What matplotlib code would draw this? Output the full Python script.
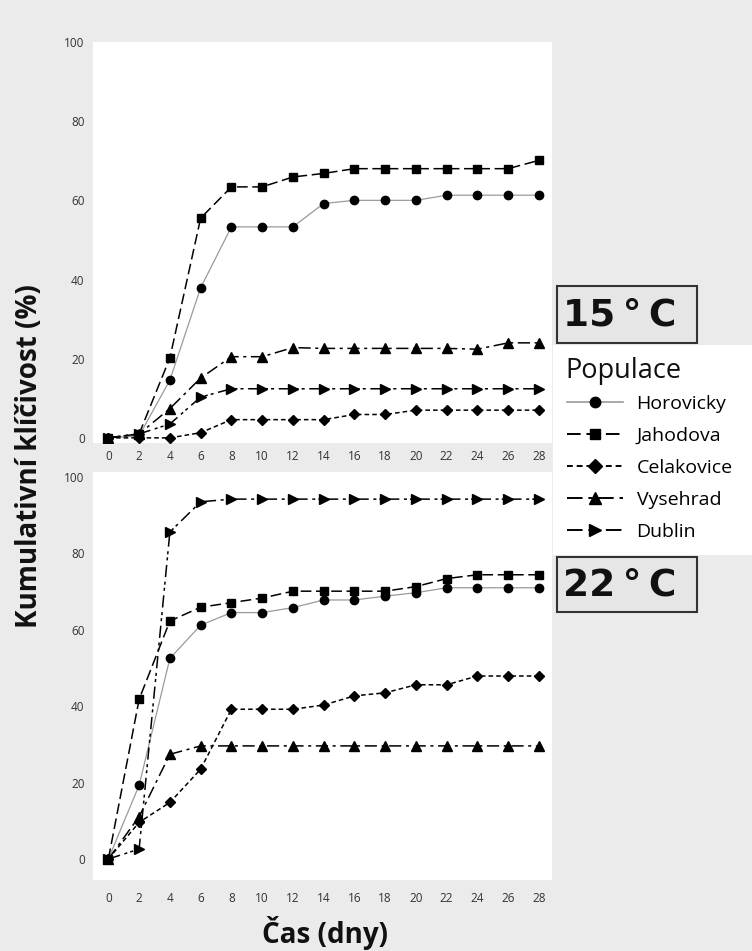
import matplotlib
matplotlib.use("Agg")
import matplotlib.pyplot as plt
from matplotlib.lines import Line2D
from matplotlib.patches import Rectangle

days = [0, 2, 4, 6, 8, 10, 12, 14, 16, 18, 20, 22, 24, 26, 28]
populations = ["Horovicky", "Jahodova", "Celakovice", "Vysehrad", "Dublin"]

# 15 °C
t15_horovicky = [0, 0.5, 14.6, 37.9, 53.3, 53.3, 53.3, 59.2, 60, 60, 60, 61.3, 61.3, 61.3, 61.3]
t15_jahodova = [0, 1, 20.2, 55.5, 63.4, 63.4, 65.9, 66.8, 68, 68, 68, 68, 68, 68, 70.1]
t15_celakovice = [0, 0, 0, 1.3, 4.6, 4.6, 4.6, 4.6, 5.9, 5.9, 7, 7, 7, 7, 7]
t15_vysehrad = [0, 1, 7.4, 15.1, 20.5, 20.5, 22.8, 22.6, 22.6, 22.6, 22.6, 22.6, 22.4, 24, 24]
t15_dublin = [0, 1, 3.5, 10.3, 12.4, 12.4, 12.4, 12.4, 12.4, 12.4, 12.4, 12.4, 12.4, 12.4, 12.4]

# 22 °C
t22_horovicky = [0, 19.3, 52.5, 61.2, 64.5, 64.5, 65.8, 67.8, 67.8, 68.8, 69.7, 71, 71, 71, 71]
t22_jahodova = [0, 41.8, 62.3, 65.9, 67.1, 68.3, 70.1, 70.1, 70.1, 70.1, 71.3, 73.4, 74.4, 74.4, 74.4]
t22_celakovice = [0, 9.6, 14.8, 23.5, 39.2, 39.2, 39.2, 40.3, 42.7, 43.5, 45.6, 45.6, 47.9, 47.9, 47.9]
t22_vysehrad = [0, 11.1, 27.4, 29.6, 29.6, 29.6, 29.6, 29.6, 29.6, 29.6, 29.6, 29.6, 29.6, 29.6, 29.6]
t22_dublin = [0, 2.6, 85.6, 93.5, 94.2, 94.2, 94.2, 94.2, 94.2, 94.2, 94.2, 94.2, 94.2, 94.2, 94.2]

yticks = [0, 20, 40, 60, 80, 100]
ylabel = "Kumulativní klíčivost (%)"
xlabel = "Čas (dny)"
legend_title = "Populace"
panel_labels = ["15\u2009°\u2009C", "22\u2009°\u2009C"]

styles = {
    "Horovicky": dict(marker="o", color="#9a9a9a", lw=0.9, ls="-", mfc="black", mec="black"),
    "Jahodova": dict(marker="s", color="black", lw=1.1, ls=(0, (7, 3)), mfc="black", mec="black"),
    "Celakovice": dict(marker="D", color="black", lw=1.1, ls=(0, (3, 2)), mfc="black", mec="black"),
    "Vysehrad": dict(marker="^", color="black", lw=1.1, ls=(0, (8, 3, 2, 3)), mfc="black", mec="black"),
    "Dublin": dict(marker=">", color="black", lw=1.1, ls=(0, (8, 3, 2, 2, 2, 3)), mfc="black", mec="black"),
}
msize = {"Horovicky": 6, "Jahodova": 6, "Celakovice": 5.5, "Vysehrad": 6.5, "Dublin": 6.5}

FONT = ["Open Sans", "DejaVu Sans"]
plt.rcParams["font.family"] = FONT

W, H = 752, 951
fig = plt.figure(figsize=(W / 100, H / 100), dpi=100)
fig.patch.set_facecolor("#ebebeb")

def fx(px):
    return px / W

def fy(py):
    return 1 - py / H

ax1 = fig.add_axes([fx(93), fy(443), fx(552) - fx(93), fy(42) - fy(443)])
ax2 = fig.add_axes([fx(93), fy(880), fx(552) - fx(93), fy(472) - fy(880)])

data15 = [t15_horovicky, t15_jahodova, t15_celakovice, t15_vysehrad, t15_dublin]
data22 = [t22_horovicky, t22_jahodova, t22_celakovice, t22_vysehrad, t22_dublin]

for ax, dset, ylim, xpad in [(ax1, data15, (-1.3, 100), 5), (ax2, data22, (-5.5, 101.3), 9)]:
    for name, vals in zip(populations, dset):
        st = styles[name]
        ax.plot(days, vals, marker=st["marker"], color=st["color"], lw=st["lw"],
                ls=st["ls"], mfc=st["mfc"], mec=st["mec"], ms=msize[name])
    ax.set_xlim(-1, 28.85)
    ax.set_ylim(*ylim)
    ax.set_xticks(days)
    ax.set_yticks(yticks)
    ax.tick_params(length=0, labelsize=8.5, colors="#333333")
    ax.tick_params(axis="x", pad=xpad)
    ax.tick_params(axis="y", pad=6)
    for sp in ax.spines.values():
        sp.set_visible(False)
    ax.set_facecolor("white")

fig.text(fx(30), fy(456), ylabel, rotation=90, ha="center", va="center",
         fontsize=20, fontweight="bold", color="#111111")
fig.text(fx(325), fy(933), xlabel, ha="center", va="center",
         fontsize=20, fontweight="bold", color="#111111")

# legend background
fig.patches.append(Rectangle((fx(553), fy(555)), fx(752) - fx(553), fy(345) - fy(555),
                             transform=fig.transFigure, facecolor="white", edgecolor="none"))

# panel label boxes
for lab, (top, bot) in zip(panel_labels, [(286, 343), (557, 612)]):
    fig.patches.append(Rectangle((fx(557), fy(bot)), fx(697) - fx(557), fy(top) - fy(bot),
                                 transform=fig.transFigure, facecolor="#e6e6e6",
                                 edgecolor="#333333", lw=1.5))
    fig.text(fx(620), fy((top + bot) / 2 + 1), lab, ha="center", va="center",
             fontsize=27, fontweight="bold", color="#111111", family=["DejaVu Sans"])

# legend title
fig.text(fx(565), fy(371), legend_title, ha="left", va="center", fontsize=19.5, color="#111111")

handles = []
for name in populations:
    st = styles[name]
    handles.append(Line2D([], [], marker=st["marker"], color=st["color"], lw=st["lw"] + 0.3,
                          ls=st["ls"], mfc=st["mfc"], mec=st["mec"], ms=msize[name] + 1.5))
leg = fig.legend(handles, populations, loc="upper left",
                 bbox_to_anchor=(fx(553), fy(381)), frameon=False,
                 fontsize=14, handlelength=2.9, labelspacing=0.72, handletextpad=0.7,
                 borderpad=0.2)

fig.savefig("out.png", dpi=100, facecolor=fig.get_facecolor())
